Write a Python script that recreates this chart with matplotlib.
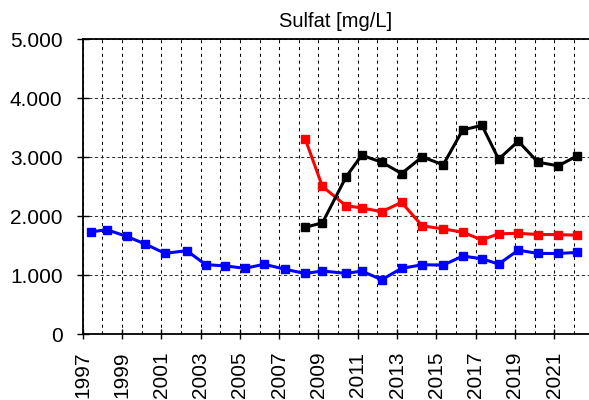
import matplotlib.pyplot as plt
from matplotlib.ticker import FixedLocator, MultipleLocator, FuncFormatter

plt.rcParams['font.family'] = ['Liberation Sans', 'DejaVu Sans']

# sampling dates (decimal years)
dates = [1997.42, 1998.22, 1999.24, 2000.19, 2001.19, 2002.29, 2003.26, 2004.24,
         2005.26, 2006.24, 2007.30, 2008.32, 2009.20, 2010.40, 2011.20, 2012.22,
         2013.23, 2014.28, 2015.35, 2016.34, 2017.32, 2018.17, 2019.17, 2020.17,
         2021.20, 2022.17]
blue = [1735, 1774, 1660, 1530, 1372, 1419, 1182, 1160, 1120, 1188, 1103, 1032,
        1074, 1034, 1072, 927, 1118, 1180, 1174, 1326, 1282, 1191, 1427, 1371,
        1371, 1388]

dates_2 = dates[11:]
black = [1815, 1889, 2664, 3035, 2917, 2725, 3007, 2872, 3462, 3541, 2968, 3272,
         2917, 2855, 3024]
red = [3315, 2506, 2180, 2142, 2079, 2236, 1838, 1788, 1730, 1602, 1703, 1713,
       1691, 1691, 1680]

year_ticks = list(range(1997, 2023, 2))

fig = plt.figure(figsize=(5.89, 4.0), dpi=100)
ax = fig.add_axes([0.1404, 0.164, 0.8596, 0.738])

ax.plot(dates, blue, color='#0000FF', lw=2.2, marker='s', ms=6.3, zorder=3)
ax.plot(dates_2, red, color='#FF0000', lw=2.2, marker='s', ms=6.3, zorder=3)
ax.plot(dates_2, black, color='black', lw=2.2, marker='s', ms=6.3, zorder=3)

ax.set_xlim(1997, 2022.77)
ax.set_ylim(0, 5000)

ax.xaxis.set_major_locator(FixedLocator(year_ticks))
ax.xaxis.set_minor_locator(MultipleLocator(1))
ax.yaxis.set_major_locator(MultipleLocator(1000))
ax.xaxis.set_major_formatter(FuncFormatter(lambda v, p: f"{v:.0f}"))
ax.yaxis.set_major_formatter(FuncFormatter(lambda v, p: f"{v:,.0f}".replace(",", ".")))

ax.grid(which='both', axis='x', color='black', lw=0.75, ls=(0, (3, 3.5)))
ax.grid(which='major', axis='y', color='#333333', lw=0.75, ls=(0, (3, 2.5)))
ax.set_axisbelow(True)

ax.tick_params(axis='x', which='major', direction='inout', length=7, width=1,
               labelsize=15, labelrotation=90, pad=9)
ax.tick_params(axis='x', which='minor', length=0)
ax.tick_params(axis='y', direction='inout', length=9, width=1, labelsize=15, pad=10)

for s in ['left', 'top', 'bottom']:
    ax.spines[s].set_linewidth(1.3)
ax.spines['right'].set_visible(False)

ax.set_title('Sulfat [mg/L]', fontsize=14.5, pad=9)

fig.savefig('out.png', dpi=100)
